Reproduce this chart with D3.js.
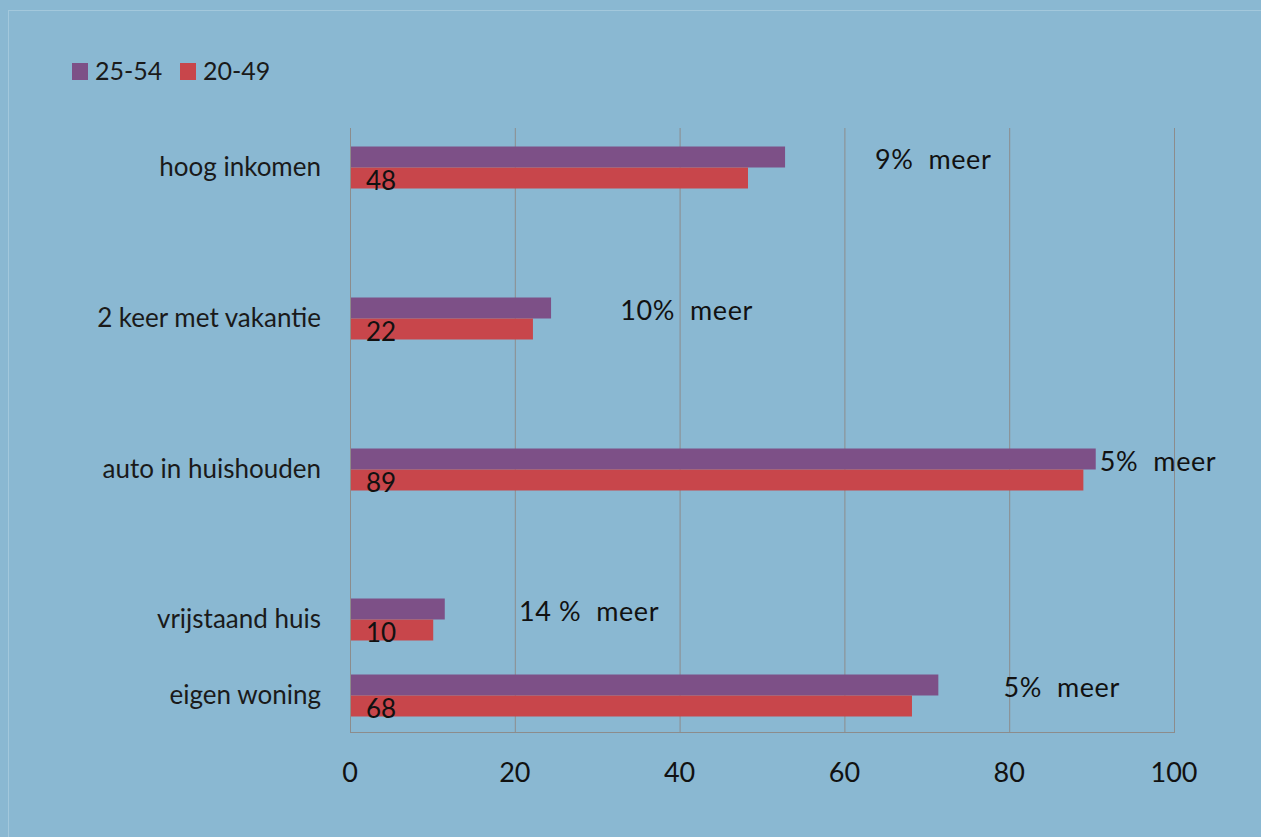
<!DOCTYPE html>
<html>
<head>
<meta charset="utf-8">
<script src="https://cdn.jsdelivr.net/npm/d3@7"></script>
<style>
  body { margin: 0; background: #8ab8d2; }
  svg { display: block; font-family: Lato, "Open Sans", sans-serif; }
</style>
</head>
<body>
<svg id="chart" width="1261" height="837"></svg>
<script>
// data
var categories = ["hoog inkomen", "2 keer met vakantie", "auto in huishouden", "vrijstaand huis", "eigen woning"];
var seriesNames = ["25-54", "20-49"];
var values2554 = [52.8, 24.4, 90.5, 11.5, 71.4];
var values2049 = [48.3, 22.2, 89.0, 10.1, 68.2];
var valueLabels = ["48", "22", "89", "10", "68"];
var notes = ["9%  meer", "10%  meer", "5%  meer", "14 %  meer", "5%  meer"];
var xTicks = [0, 20, 40, 60, 80, 100];

var colors = ["#7d5087", "#c8464b"];

var svg = d3.select("#chart");

// faint frame
svg.append("rect")
  .attr("x", 8.5).attr("y", 10.5)
  .attr("width", 1270).attr("height", 840)
  .attr("fill", "none")
  .attr("stroke", "#a3c8dc");

var x = d3.scaleLinear().domain([0, 100]).range([350, 1174]);
// categories are not evenly spaced in the original
var y = d3.scaleOrdinal().domain(categories).range([167.5, 318.5, 469.5, 619.5, 695.5]);
var barH = 21;
var plotTop = 128, plotBottom = 732;

// grid
svg.append("g").selectAll("line")
  .data(xTicks)
  .join("line")
  .attr("x1", function(d) { return x(d) + 0.5; })
  .attr("x2", function(d) { return x(d) + 0.5; })
  .attr("y1", plotTop).attr("y2", plotBottom)
  .attr("stroke", "#8c8c8c");

svg.append("line")
  .attr("x1", x(0)).attr("x2", x(100) + 1)
  .attr("y1", plotBottom + 0.5).attr("y2", plotBottom + 0.5)
  .attr("stroke", "#8c8c8c");

// x tick labels
svg.append("g").selectAll("text")
  .data(xTicks)
  .join("text")
  .attr("x", function(d) { return x(d); })
  .attr("y", 782)
  .attr("text-anchor", "middle")
  .attr("font-size", 27)
  .attr("fill", "#111")
  .text(function(d) { return d; });

// category labels
svg.append("g").selectAll("text")
  .data(categories)
  .join("text")
  .attr("x", 321)
  .attr("y", function(d) { return y(d) + 8.5; })
  .attr("text-anchor", "end")
  .attr("font-size", 26)
  .attr("fill", "#1a1a1a")
  .text(function(d) { return d; });

// bars
var series = [values2554, values2049];
series.forEach(function(vals, s) {
  svg.append("g").selectAll("rect")
    .data(vals)
    .join("rect")
    .attr("x", x(0) + 1)
    .attr("y", function(d, i) { return s === 0 ? y(categories[i]) - barH : y(categories[i]); })
    .attr("width", function(d) { return x(d) - x(0) - 1; })
    .attr("height", barH)
    .attr("fill", colors[s]);
});

// value labels inside red bars
svg.append("g").selectAll("text")
  .data(valueLabels)
  .join("text")
  .attr("x", 366)
  .attr("y", function(d, i) { return y(categories[i]) + 22.5; })
  .attr("font-size", 26)
  .attr("fill", "#111")
  .text(function(d) { return d; });

// "meer" notes, anchored in axis units
var noteAt = [63.7, 32.8, 91.0, 20.5, 79.3];
svg.append("g").selectAll("text")
  .data(notes)
  .join("text")
  .attr("x", function(d, i) { return x(noteAt[i]); })
  .attr("y", function(d, i) { return y(categories[i]) + 1; })
  .attr("font-size", 27)
  .attr("letter-spacing", 0.6)
  .attr("fill", "#111")
  .style("white-space", "pre")
  .text(function(d) { return d; });

// legend
var legend = svg.append("g").selectAll("g")
  .data(seriesNames)
  .join("g")
  .attr("transform", function(d, i) { return "translate(" + (72 + i * 108) + ",63)"; });
legend.append("rect")
  .attr("width", 16).attr("height", 17)
  .attr("fill", function(d, i) { return colors[i]; });
legend.append("text")
  .attr("x", 23).attr("y", 17)
  .attr("font-size", 25)
  .attr("fill", "#1a1a1a")
  .text(function(d) { return d; });
</script>
</body>
</html>
